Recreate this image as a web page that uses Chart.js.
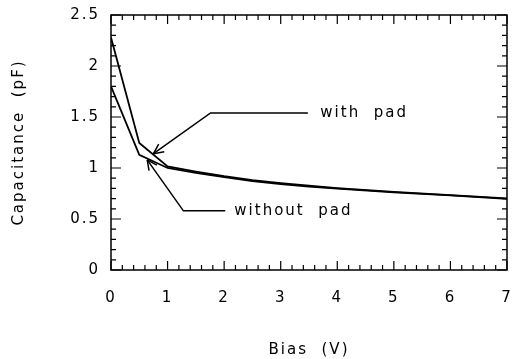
<!DOCTYPE html>
<html>
<head>
<meta charset="utf-8">
<script src="https://cdn.jsdelivr.net/npm/chart.js@4"></script>
<style>
  body { margin: 0; background: #fff; }
  #wrap { width: 513px; height: 359px; }
</style>
</head>
<body>
<div id="wrap"><canvas id="chart1"></canvas></div>
<script>
const bias = [0, 0.5, 1, 1.5, 2, 2.5, 3, 3.5, 4, 5, 6, 7]
const withPad = [2.28, 1.245, 1.015, 0.965, 0.92, 0.882, 0.852, 0.826, 0.803, 0.766, 0.734, 0.702]
const withoutPad = [1.80, 1.13, 1.0, 0.953, 0.91, 0.872, 0.843, 0.818, 0.797, 0.762, 0.731, 0.698]

// annotation arrows: [bias, capacitance] from label end to arrow tip
const withPadArrow = [[3.48, 1.54], [1.76, 1.54], [0.75, 1.14]]
const withoutPadArrow = [[2.02, 0.58], [1.28, 0.58], [0.64, 1.08]]
const labels = [
    { text: 'with  pad', x: 3.7, y: 1.54 },
    { text: 'without  pad', x: 2.18, y: 0.58 }
]

const FONT = 'DejaVu Sans'
const SPACING = '2px'

Chart.defaults.color = '#000'
Chart.defaults.font.family = FONT

const spacingPlugin = {
    id: 'spacing',
    beforeLayout(chart) { chart.ctx.letterSpacing = SPACING },
    beforeDraw(chart) { chart.ctx.letterSpacing = SPACING }
}

// frame with inward ticks on all four sides
const framePlugin = {
    id: 'frame',
    afterDatasetsDraw(chart) {
        const { ctx, chartArea: a, scales: { x, y } } = chart
        ctx.save()
        ctx.strokeStyle = '#000'
        ctx.lineWidth = 1.5
        ctx.strokeRect(a.left, a.top, a.right - a.left, a.bottom - a.top)
        ctx.lineWidth = 1.2
        ctx.beginPath()
        for (let i = 0; i <= 35; i++) {
            const px = x.getPixelForValue(i * 0.2)
            const len = i % 5 === 0 ? 9 : 5
            ctx.moveTo(px, a.bottom); ctx.lineTo(px, a.bottom - len)
            ctx.moveTo(px, a.top); ctx.lineTo(px, a.top + len)
        }
        for (let i = 0; i <= 25; i++) {
            const py = y.getPixelForValue(i * 0.1)
            const len = i % 5 === 0 ? 10 : 5
            ctx.moveTo(a.left, py); ctx.lineTo(a.left + len, py)
            ctx.moveTo(a.right, py); ctx.lineTo(a.right - len, py)
        }
        ctx.stroke()
        ctx.restore()
    }
}

function drawArrow(ctx, x, y, pts) {
    const p = pts.map(([bx, c]) => [x.getPixelForValue(bx), y.getPixelForValue(c)])
    ctx.beginPath()
    ctx.moveTo(p[0][0], p[0][1])
    for (let i = 1; i < p.length; i++) ctx.lineTo(p[i][0], p[i][1])
    ctx.stroke()
    const [tx, ty] = p[p.length - 1]
    const [sx, sy] = p[p.length - 2]
    const ang = Math.atan2(ty - sy, tx - sx)
    ctx.beginPath()
    for (const d of [0.45, -0.45]) {
        ctx.moveTo(tx, ty)
        ctx.lineTo(tx - 11 * Math.cos(ang + d), ty - 11 * Math.sin(ang + d))
    }
    ctx.stroke()
}

const annotationPlugin = {
    id: 'notes',
    afterDatasetsDraw(chart) {
        const { ctx, scales: { x, y } } = chart
        ctx.save()
        ctx.strokeStyle = '#000'
        ctx.lineWidth = 1.5
        drawArrow(ctx, x, y, withPadArrow)
        drawArrow(ctx, x, y, withoutPadArrow)
        ctx.fillStyle = '#000'
        ctx.font = '15px ' + FONT
        ctx.letterSpacing = SPACING
        ctx.textBaseline = 'middle'
        labels.forEach(l => ctx.fillText(l.text, x.getPixelForValue(l.x), y.getPixelForValue(l.y)))
        ctx.restore()
    }
}

const data = {
    datasets: [
        {
            label: 'with pad',
            data: bias.map((b, i) => ({ x: b, y: withPad[i] })),
            borderColor: '#000',
            borderWidth: 1.8,
            pointRadius: 0,
            tension: 0
        },
        {
            label: 'without pad',
            data: bias.map((b, i) => ({ x: b, y: withoutPad[i] })),
            borderColor: '#000',
            borderWidth: 1.8,
            pointRadius: 0,
            tension: 0
        }
    ]
}

const options = {
    responsive: true,
    maintainAspectRatio: false,
    animation: false,
    layout: { padding: { top: 15, right: 6 } },
    plugins: { legend: { display: false }, tooltip: { enabled: false } },
    scales: {
        x: {
            type: 'linear',
            min: 0,
            max: 7,
            grid: { display: false, drawTicks: false },
            border: { display: false },
            ticks: { stepSize: 1, padding: 19, font: { size: 15 } },
            title: { display: true, text: 'Bias  (V)', font: { size: 15 }, padding: { top: 0, bottom: 0 } },
            afterFit: s => { s.height = 89; s.paddingLeft = 0; s.paddingRight = 0 }
        },
        y: {
            min: 0,
            max: 2.5,
            grid: { display: false, drawTicks: false },
            border: { display: false },
            ticks: { stepSize: 0.5, padding: 11, font: { size: 15 }, callback: v => String(v) },
            title: { display: true, text: 'Capacitance  (pF)', font: { size: 15 }, padding: { top: 10, bottom: 0 } },
            afterFit: s => { s.width = 111; s.paddingTop = 0; s.paddingBottom = 0 }
        }
    }
}

new Chart('chart1', { type: 'line', data, options, plugins: [spacingPlugin, framePlugin, annotationPlugin] })
</script>
</body>
</html>
